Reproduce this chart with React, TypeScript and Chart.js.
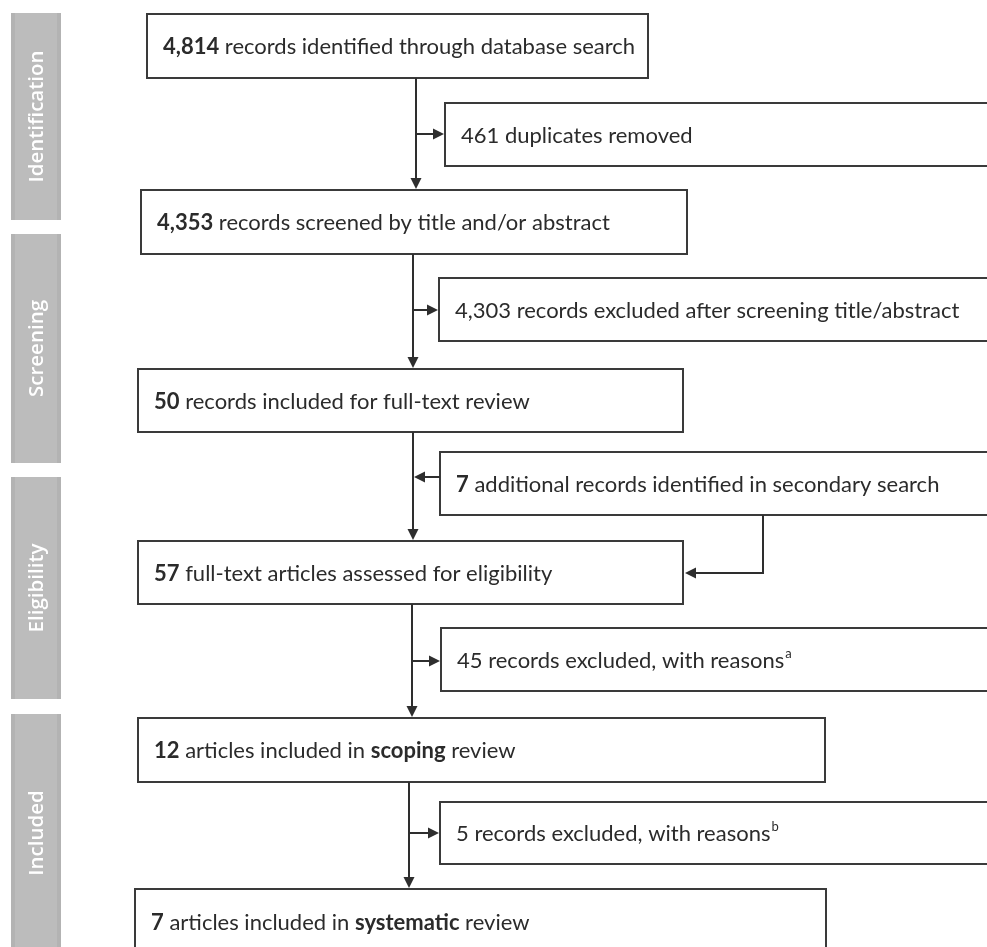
import { useEffect, useRef } from "react";
import { Chart, registerables } from "chart.js";

Chart.register(...registerables);

// ---- data ----
const stageLabels = ["Identification", "Screening", "Eligibility", "Included"];
const boxCounts = ["4,814", "461", "4,353", "4,303", "50", "7", "57", "45", "12", "5", "7"];
const countBold = [true, false, true, false, true, true, true, false, true, false, true];
const boxPhrases = [
  " records identified through database search",
  " duplicates removed",
  " records screened by title and/or abstract",
  " records excluded after screening title/abstract",
  " records included for full-text review",
  " additional records identified in secondary search",
  " full-text articles assessed for eligibility",
  " records excluded, with reasons^a",
  " articles included in **scoping** review",
  " records excluded, with reasons^b",
  " articles included in **systematic** review",
];

// ---- layout (in chart units) ----
const sideX = [11, 61];
const stageRanges = [
  [13, 220],
  [234, 463],
  [477, 699],
  [714, 952],
];
const boxRects = [
  [147, 648, 14, 78],
  [445, 995, 103, 166],
  [141, 687, 190, 254],
  [439, 995, 278, 341],
  [138, 683, 369, 432],
  [440, 995, 452, 515],
  [138, 683, 541, 604],
  [441, 995, 628, 691],
  [138, 825, 718, 782],
  [440, 995, 802, 864],
  [135, 826, 889, 956],
];
// main vertical segments: [x, yStart, yEnd] arrow at end
const mainSegments = [
  [416, 78, 190],
  [413, 254, 369],
  [413, 432, 541],
  [412, 604, 718],
  [409, 782, 889],
];
// horizontal branches: [xFrom, xTo, y] arrow at xTo
const branches = [
  [416, 445, 134],
  [413, 439, 310],
  [440, 413, 477],
  [412, 441, 661],
  [409, 440, 833],
];
// elbow from box 6 to box 7: points, arrow at last
const elbow = [
  [763, 515],
  [763, 573],
  [683, 573],
];

const BOX_FONT = "Lato";
const BOX_SIZE = 22;

function drawRich(ctx: CanvasRenderingContext2D, str: string, x: number, y: number, size: number) {
  let bold = false;
  let cx = x;
  const parts = str.split(/(\*\*|\^.)/);
  for (const p of parts) {
    if (!p) continue;
    if (p === "**") {
      bold = !bold;
      continue;
    }
    if (p.startsWith("^")) {
      const s = Math.round(size * 0.6);
      ctx.font = `${bold ? "bold " : ""}${s}px "${BOX_FONT}"`;
      ctx.fillText(p.slice(1), cx + 1, y - size * 0.32);
      cx += ctx.measureText(p.slice(1)).width + 1;
      continue;
    }
    ctx.font = `${bold ? "bold " : ""}${size}px "${BOX_FONT}"`;
    ctx.fillText(p, cx, y);
    cx += ctx.measureText(p).width;
  }
}

function arrowHead(ctx: CanvasRenderingContext2D, tx: number, ty: number, dir: "down" | "right" | "left") {
  const L = 11;
  const W = 5.5;
  ctx.beginPath();
  if (dir === "down") {
    ctx.moveTo(tx, ty);
    ctx.lineTo(tx - W, ty - L);
    ctx.lineTo(tx + W, ty - L);
  } else if (dir === "right") {
    ctx.moveTo(tx, ty);
    ctx.lineTo(tx - L, ty - W);
    ctx.lineTo(tx - L, ty + W);
  } else {
    ctx.moveTo(tx, ty);
    ctx.lineTo(tx + L, ty - W);
    ctx.lineTo(tx + L, ty + W);
  }
  ctx.closePath();
  ctx.fill();
}

const flowPlugin = {
  id: "flowDiagram",
  beforeDatasetsDraw(chart: any) {
    const { ctx } = chart;
    const xs = chart.scales.x;
    const ys = chart.scales.y;
    const X = (v: number) => xs.getPixelForValue(v);
    const Y = (v: number) => ys.getPixelForValue(v);
    ctx.save();
    ctx.fillStyle = "#ffffff";
    ctx.fillRect(0, 0, chart.width, chart.height);

    // stage side bars
    stageRanges.forEach(([a, b], i) => {
      const x0 = X(sideX[0]);
      const x1 = X(sideX[1]);
      const y0 = Y(a);
      const y1 = Y(b);
      ctx.fillStyle = "#bcbcbc";
      ctx.fillRect(x0, y0, x1 - x0, y1 - y0);
      ctx.fillStyle = "#b3b3b3";
      ctx.fillRect(x0, y0, 4, y1 - y0);
      ctx.fillRect(x1 - 4, y0, 4, y1 - y0);
      ctx.save();
      ctx.translate((x0 + x1) / 2, (y0 + y1) / 2);
      ctx.rotate(-Math.PI / 2);
      ctx.fillStyle = "#ffffff";
      ctx.font = '600 20.5px "Open Sans"';
      ctx.textAlign = "center";
      ctx.textBaseline = "middle";
      ctx.fillText(stageLabels[i], 0, 1);
      ctx.restore();
    });

    // boxes
    ctx.strokeStyle = "#3a3a3a";
    ctx.lineWidth = 2;
    boxRects.forEach(([a, b, c, d], i) => {
      const x0 = X(a);
      const x1 = X(b);
      const y0 = Y(c);
      const y1 = Y(d);
      ctx.fillStyle = "#ffffff";
      ctx.fillRect(x0, y0, x1 - x0, y1 - y0);
      ctx.strokeRect(x0, y0, x1 - x0, y1 - y0);
      ctx.fillStyle = "#2b2b2b";
      ctx.textAlign = "left";
      ctx.textBaseline = "middle";
      const label = (countBold[i] ? `**${boxCounts[i]}**` : boxCounts[i]) + boxPhrases[i];
      const cy = i === boxRects.length - 1 ? Y(c) + 33 : (y0 + y1) / 2;
      drawRich(ctx, label, x0 + 16, cy + 1, BOX_SIZE);
    });

    // connectors
    ctx.strokeStyle = "#2e2e2e";
    ctx.fillStyle = "#2e2e2e";
    ctx.lineWidth = 2;
    mainSegments.forEach(([x, a, b]) => {
      ctx.beginPath();
      ctx.moveTo(X(x), Y(a));
      ctx.lineTo(X(x), Y(b) - 8);
      ctx.stroke();
      arrowHead(ctx, X(x), Y(b) - 1, "down");
    });
    branches.forEach(([a, b, y]) => {
      const dir = b > a ? "right" : "left";
      ctx.beginPath();
      ctx.moveTo(X(a), Y(y));
      ctx.lineTo(X(b) + (dir === "right" ? -8 : 8), Y(y));
      ctx.stroke();
      arrowHead(ctx, X(b) + (dir === "right" ? -1 : 1), Y(y), dir);
    });
    ctx.beginPath();
    ctx.moveTo(X(elbow[0][0]), Y(elbow[0][1]));
    ctx.lineTo(X(elbow[1][0]), Y(elbow[1][1]));
    ctx.lineTo(X(elbow[2][0]) + 8, Y(elbow[2][1]));
    ctx.stroke();
    arrowHead(ctx, X(elbow[2][0]) + 2, Y(elbow[2][1]), "left");

    ctx.restore();
  },
};

export default function App() {
  const ref = useRef<HTMLCanvasElement | null>(null);
  useEffect(() => {
    document.body.style.margin = "0";
    if (!ref.current) return;
    const chart = new Chart(ref.current, {
      type: "scatter",
      data: {
        datasets: [
          {
            label: "boxes",
            data: boxRects.map((r) => ({ x: (r[0] + r[1]) / 2, y: (r[2] + r[3]) / 2 })),
            pointRadius: 0,
            pointHoverRadius: 0,
          },
        ],
      },
      options: {
        responsive: false,
        animation: false,
        events: [],
        layout: { padding: 0 },
        scales: {
          x: { type: "linear", min: 0, max: 987, display: false },
          y: { type: "linear", min: 0, max: 947, reverse: true, display: false },
        },
        plugins: { legend: { display: false }, tooltip: { enabled: false } },
      },
      plugins: [flowPlugin],
    });
    return () => chart.destroy();
  }, []);
  return (
    <div style={{ position: "absolute", left: 0, top: 0, width: 987, height: 947 }}>
      <canvas ref={ref} width={987} height={947} style={{ width: 987, height: 947, display: "block" }} />
    </div>
  );
}
